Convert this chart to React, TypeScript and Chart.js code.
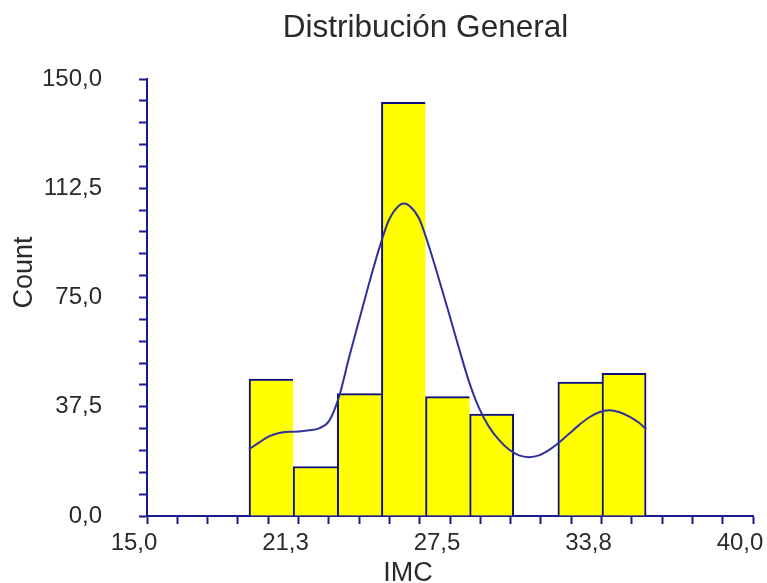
import React, { useEffect, useRef } from 'react';
import { Chart, registerables } from 'chart.js';

Chart.register(...registerables);

const chartTitle = 'Distribución General';
const xAxisTitle = 'IMC';
const yAxisTitle = 'Count';

// Histogram bins (centres) and counts
const binCenters = [20.12, 21.94, 23.76, 25.58, 27.40, 29.22, 31.04, 32.86, 34.68];
const binCounts = [47, 17, 42, 142, 41, 35, 0, 46, 49];

// Density curve
const curveX = [19.21, 19.62, 20.03, 20.45, 20.86, 21.27, 21.68, 22.10, 22.51, 22.92, 23.33, 23.75, 24.16, 24.57, 24.98, 25.40, 25.60, 25.81, 26.22, 26.63, 27.05, 27.46, 27.87, 28.28, 28.70, 29.11, 29.52, 29.93, 30.35, 30.76, 31.17, 31.58, 32.00, 32.41, 32.82, 33.23, 33.65, 34.06, 34.47, 34.88, 35.30, 35.59];
const curveY = [22.9, 25.2, 27.3, 28.5, 28.9, 29.0, 29.4, 30.1, 32.6, 40.9, 54.2, 67.2, 79.8, 91.6, 101.6, 106.6, 107.3, 106.6, 102.2, 92.6, 81.1, 69.5, 57.6, 46.2, 37.0, 30.6, 26.1, 22.8, 20.8, 20.2, 20.8, 22.6, 25.2, 28.2, 31.2, 33.8, 35.6, 36.3, 35.7, 34.2, 32.0, 29.8];

// Axis ticks
const xMin = 15;
const xMax = 40;
const xMinorStep = 1.25;
const xTickValues = [15, 21.25, 27.5, 33.75, 40];
const xTickLabels = ['15,0', '21,3', '27,5', '33,8', '40,0'];
const yMin = 0;
const yMax = 150;
const yMinorStep = 7.5;
const yTickValues = [0, 37.5, 75, 112.5, 150];
const yTickLabels = ['0,0', '37,5', '75,0', '112,5', '150,0'];

const FONT = '"Liberation Sans", Arial, sans-serif';
const TEXT = '#2a2a2a';
const NAVY = '#1a1a8e';
const BAR_BORDER = '#0c0c80';
const CURVE = '#30309a';

function labelFor(values: number[], labels: string[], v: number): string {
  const i = values.findIndex((t) => Math.abs(t - v) < 1e-6);
  return i >= 0 ? labels[i] : '';
}

const titlesPlugin = {
  id: 'chartTitles',
  afterDraw(chart: any) {
    const { ctx, chartArea } = chart;
    const cx = (chartArea.left + chartArea.right) / 2;
    const cy = (chartArea.top + chartArea.bottom) / 2;
    ctx.save();
    ctx.fillStyle = TEXT;
    ctx.textAlign = 'center';
    ctx.textBaseline = 'alphabetic';
    ctx.font = `31.5px ${FONT}`;
    ctx.fillText(chartTitle, cx - 24.5, chartArea.top - 41.7);
    ctx.font = `27px ${FONT}`;
    ctx.fillText(xAxisTitle, cx - 42, chart.height - 2.5);
    ctx.translate(32, cy - 25);
    ctx.rotate(-Math.PI / 2);
    ctx.fillText(yAxisTitle, 0, 0);
    ctx.restore();
  },
};

export default function App() {
  const ref = useRef<HTMLCanvasElement>(null);

  useEffect(() => {
    if (!ref.current) return;
    const barPoints = binCenters.map((x, i) => ({ x, y: binCounts[i] > 0 ? binCounts[i] : null }));
    const curvePoints = curveX.map((x, i) => ({ x, y: curveY[i] }));

    const chart = new Chart(ref.current, {
      type: 'bar',
      data: {
        datasets: [
          {
            type: 'line',
            data: curvePoints,
            borderColor: CURVE,
            borderWidth: 2,
            pointRadius: 0,
            fill: false,
            cubicInterpolationMode: 'monotone',
            order: 0,
          } as any,
          {
            type: 'bar',
            data: barPoints as any,
            backgroundColor: '#ffff00',
            borderColor: BAR_BORDER,
            borderSkipped: 'start',
            borderWidth: (ctx: any) => {
              const i = ctx.dataIndex;
              const nextEmpty = i >= binCounts.length - 1 || !(binCounts[i + 1] > 0);
              return { top: 2, left: 2, right: nextEmpty ? 2 : 0, bottom: 0 };
            },
            barThickness: 'flex',
            barPercentage: 1,
            categoryPercentage: 1,
            order: 1,
          } as any,
        ],
      },
      options: {
        responsive: false,
        animation: false,
        devicePixelRatio: 1,
        layout: { padding: { left: 0, right: 14, top: 79, bottom: 0 } },
        plugins: {
          legend: { display: false },
          tooltip: { enabled: false },
          title: { display: false },
        },
        scales: {
          x: {
            type: 'linear',
            min: xMin,
            max: xMax,
            offset: false,
            afterFit: (s: any) => {
              s.height = 67;
              s.paddingLeft = 0;
              s.paddingRight = 0;
            },
            border: { display: true, color: NAVY, width: 2 },
            grid: {
              display: true,
              drawOnChartArea: false,
              drawTicks: true,
              tickLength: 8,
              tickColor: NAVY,
              tickWidth: 2,
              offset: false,
            },
            ticks: {
              stepSize: xMinorStep,
              maxTicksLimit: 100,
              autoSkip: false,
              maxRotation: 0,
              minRotation: 0,
              padding: 5,
              labelOffset: -13,
              color: TEXT,
              font: { family: FONT, size: 24 },
              callback: (v: any) => labelFor(xTickValues, xTickLabels, Number(v)),
            },
          },
          y: {
            type: 'linear',
            min: yMin,
            max: yMax,
            afterFit: (s: any) => {
              s.width = 147;
              s.paddingTop = 0;
              s.paddingBottom = 0;
            },
            border: { display: true, color: NAVY, width: 2 },
            grid: {
              display: true,
              drawOnChartArea: false,
              drawTicks: true,
              tickLength: 8,
              tickColor: NAVY,
              tickWidth: 2,
            },
            ticks: {
              stepSize: yMinorStep,
              maxTicksLimit: 100,
              autoSkip: false,
              padding: 37,
              color: TEXT,
              font: { family: FONT, size: 24 },
              callback: (v: any) => labelFor(yTickValues, yTickLabels, Number(v)),
            },
          },
        },
      },
      plugins: [titlesPlugin],
    });
    return () => chart.destroy();
  }, []);

  return (
    <div style={{ position: 'absolute', left: 0, top: 0, width: 767, height: 583, background: '#fff' }}>
      <canvas ref={ref} width={767} height={583} />
    </div>
  );
}
